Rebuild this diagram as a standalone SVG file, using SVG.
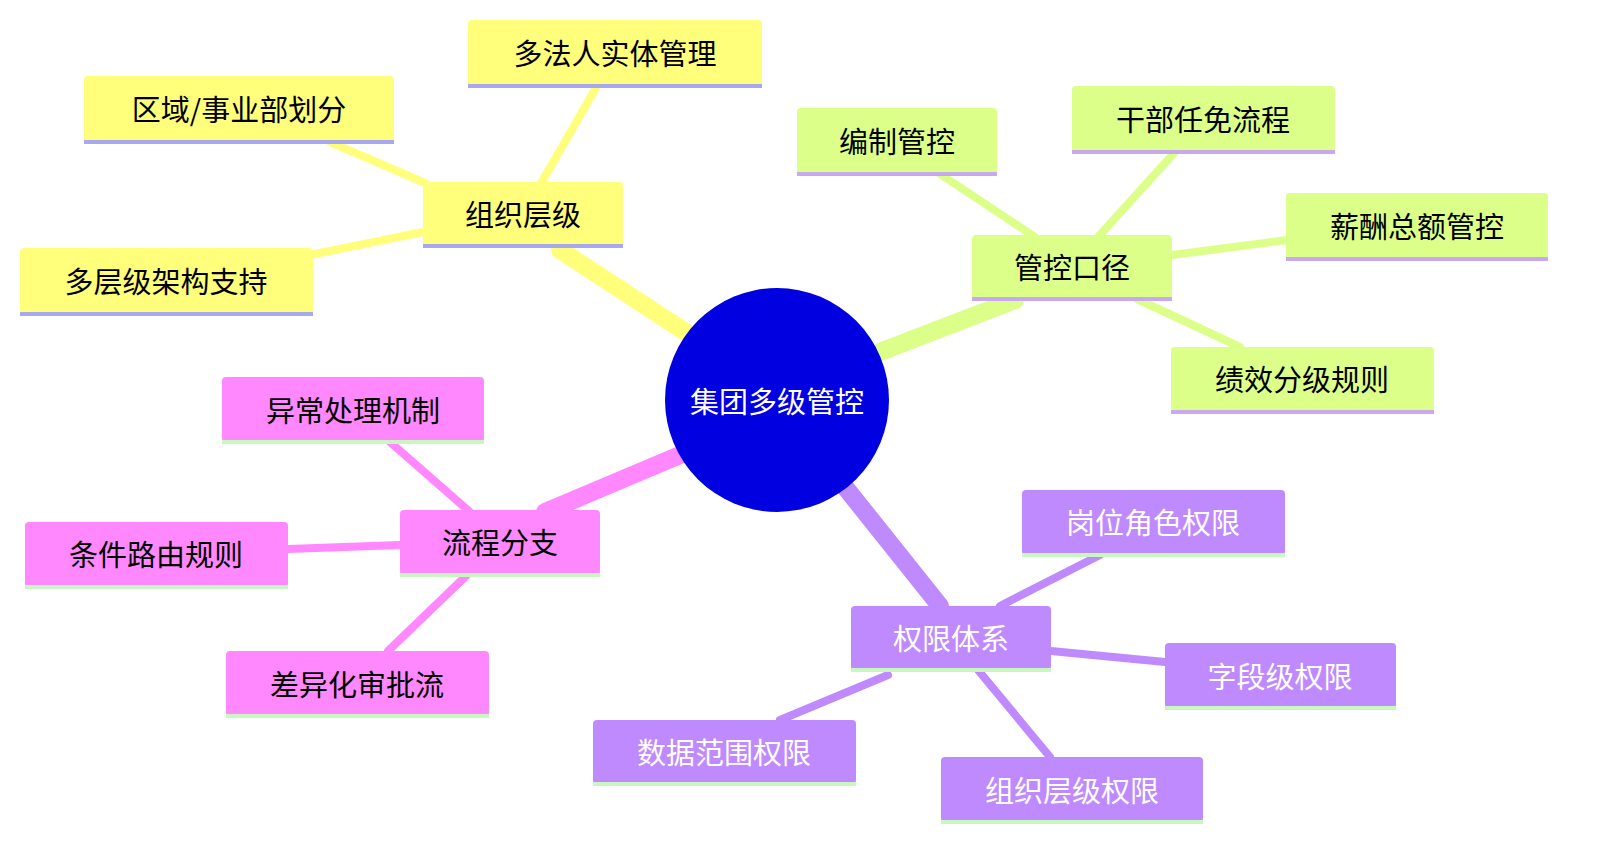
<svg xmlns="http://www.w3.org/2000/svg" width="1618" height="868" viewBox="0 0 1618 868">
<style>
text{font-family:"Noto Sans CJK SC","Liberation Sans",sans-serif;font-size:29px;text-anchor:middle;dominant-baseline:central}
.y rect.b{fill:#ffff7c}.y line{stroke:#a8a8f0}
.g rect.b{fill:#dcff8a}.g line{stroke:#c8a8f0}
.p rect.b{fill:#ff88ff}.p line{stroke:#c8f8c0}
.v rect.b{fill:#c08aff}.v line{stroke:#c8f8c0}.v text{fill:#fff}
.y line,.g line,.p line,.v line{stroke-width:4}
#edges line{stroke-linecap:round;stroke-width:8}
#edges line.m{stroke-width:18}
</style>
<rect width="1618" height="868" fill="#fff"/>
<g id="edges">
<g stroke="#ffff7c"><line class="m" x1="560" y1="250" x2="690" y2="335"/><line x1="540" y1="185" x2="597" y2="86"/><line x1="425" y1="183" x2="330" y2="142"/><line x1="423" y1="232" x2="310" y2="255"/></g>
<g stroke="#dcff8a"><line class="m" x1="1015" y1="300" x2="880" y2="352"/><line x1="1035" y1="237" x2="940" y2="174"/><line x1="1098" y1="237" x2="1175" y2="152"/><line x1="1172" y1="255" x2="1287" y2="240"/><line x1="1137" y1="299" x2="1240" y2="347"/></g>
<g stroke="#ff88ff"><line class="m" x1="680" y1="455" x2="545" y2="512"/><line x1="470" y1="512" x2="390" y2="442"/><line x1="400" y1="545" x2="288" y2="549"/><line x1="467" y1="575" x2="388" y2="651"/></g>
<g stroke="#c08aff"><line class="m" x1="845" y1="487" x2="940" y2="606"/><line x1="1000" y1="606" x2="1100" y2="555"/><line x1="1051" y1="651" x2="1165" y2="662"/><line x1="978" y1="670" x2="1050" y2="757"/><line x1="888" y1="675" x2="780" y2="720"/></g>
</g>
<g id="center"><circle cx="777" cy="400" r="112" fill="#0000e0"/><text x="777" y="400" fill="#fff">集团多级管控</text></g>
<g id="n1" class="y"><rect class="b" x="423" y="182" width="200" height="64" rx="4"/><line x1="423" y1="246" x2="623" y2="246"/><text x="523" y="213">组织层级</text></g>
<g id="n1a" class="y"><rect class="b" x="468" y="20" width="294" height="66" rx="4"/><line x1="468" y1="86" x2="762" y2="86"/><text x="615" y="52">多法人实体管理</text></g>
<g id="n1b" class="y"><rect class="b" x="84" y="76" width="310" height="66" rx="4"/><line x1="84" y1="142" x2="394" y2="142"/><text x="239" y="108">区域/事业部划分</text></g>
<g id="n1c" class="y"><rect class="b" x="20" y="248" width="293" height="66" rx="4"/><line x1="20" y1="314" x2="313" y2="314"/><text x="166" y="280">多层级架构支持</text></g>
<g id="n2" class="g"><rect class="b" x="972" y="235" width="200" height="64" rx="4"/><line x1="972" y1="299" x2="1172" y2="299"/><text x="1072" y="266">管控口径</text></g>
<g id="n2a" class="g"><rect class="b" x="797" y="108" width="200" height="66" rx="4"/><line x1="797" y1="174" x2="997" y2="174"/><text x="897" y="140">编制管控</text></g>
<g id="n2b" class="g"><rect class="b" x="1072" y="86" width="263" height="66" rx="4"/><line x1="1072" y1="152" x2="1335" y2="152"/><text x="1203" y="118">干部任免流程</text></g>
<g id="n2c" class="g"><rect class="b" x="1286" y="193" width="262" height="66" rx="4"/><line x1="1286" y1="259" x2="1548" y2="259"/><text x="1417" y="225">薪酬总额管控</text></g>
<g id="n2d" class="g"><rect class="b" x="1171" y="347" width="263" height="65" rx="4"/><line x1="1171" y1="412" x2="1434" y2="412"/><text x="1302" y="378">绩效分级规则</text></g>
<g id="n3" class="p"><rect class="b" x="400" y="510" width="200" height="65" rx="4"/><line x1="400" y1="575" x2="600" y2="575"/><text x="500" y="541">流程分支</text></g>
<g id="n3a" class="p"><rect class="b" x="222" y="377" width="262" height="65" rx="4"/><line x1="222" y1="442" x2="484" y2="442"/><text x="353" y="409">异常处理机制</text></g>
<g id="n3b" class="p"><rect class="b" x="25" y="522" width="263" height="65" rx="4"/><line x1="25" y1="587" x2="288" y2="587"/><text x="156" y="553">条件路由规则</text></g>
<g id="n3c" class="p"><rect class="b" x="226" y="651" width="263" height="65" rx="4"/><line x1="226" y1="716" x2="489" y2="716"/><text x="357" y="683">差异化审批流</text></g>
<g id="n4" class="v"><rect class="b" x="851" y="606" width="200" height="64" rx="4"/><line x1="851" y1="670" x2="1051" y2="670"/><text x="951" y="637">权限体系</text></g>
<g id="n4a" class="v"><rect class="b" x="1022" y="490" width="263" height="65" rx="4"/><line x1="1022" y1="555" x2="1285" y2="555"/><text x="1153" y="521">岗位角色权限</text></g>
<g id="n4b" class="v"><rect class="b" x="1165" y="643" width="231" height="65" rx="4"/><line x1="1165" y1="708" x2="1396" y2="708"/><text x="1280" y="675">字段级权限</text></g>
<g id="n4c" class="v"><rect class="b" x="593" y="720" width="263" height="64" rx="4"/><line x1="593" y1="784" x2="856" y2="784"/><text x="724" y="751">数据范围权限</text></g>
<g id="n4d" class="v"><rect class="b" x="941" y="757" width="262" height="65" rx="4"/><line x1="941" y1="822" x2="1203" y2="822"/><text x="1072" y="789">组织层级权限</text></g>
</svg>
